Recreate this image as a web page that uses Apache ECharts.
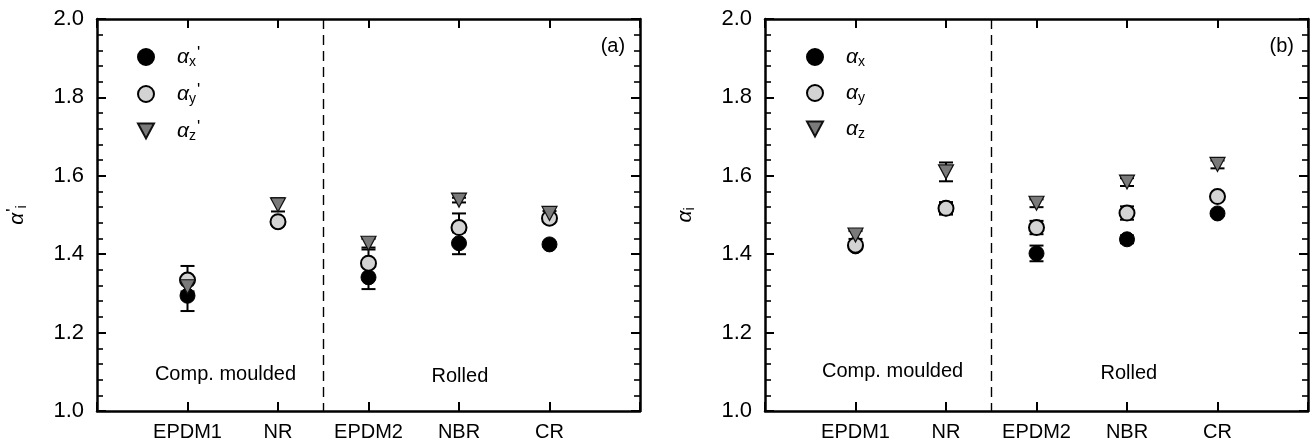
<!DOCTYPE html>
<html>
<head>
<meta charset="utf-8">
<script src="https://cdn.jsdelivr.net/npm/echarts@6/dist/echarts.min.js"></script>
<style>
html,body{margin:0;padding:0;background:#fff;}
#chart{width:1314px;height:444px;}
</style>
</head>
<body>
<div id="chart"></div>
<script>
// ---------- data ----------
const categories = ['EPDM1', 'NR', 'EPDM2', 'NBR', 'CR'];
const catPos = [1, 2, 3, 4, 5];
const yTickMin = 1.0, yTickMax = 2.0, yTickStep = 0.2;

// panel (a): alpha'_x, alpha'_y, alpha'_z
const aX = [1.294, 1.482, 1.341, 1.428, 1.425];
const aXErr = [0.039, 0.008, 0.030, 0.028, 0.006];
const aY = [1.334, 1.483, 1.377, 1.468, 1.492];
const aYErr = [0.036, 0.008, 0.035, 0.036, 0.006];
const aZ = [1.317, 1.526, 1.428, 1.538, 1.504];
const aZErr = [0.012, 0.017, 0.011, 0.006, 0.006];

// panel (b): alpha_x, alpha_y, alpha_z
const bX = [1.420, 1.517, 1.402, 1.438, 1.504];
const bXErr = [0.008, 0.012, 0.020, 0.010, 0.006];
const bY = [1.423, 1.517, 1.468, 1.505, 1.547];
const bYErr = [0.008, 0.016, 0.017, 0.017, 0.006];
const bZ = [1.449, 1.610, 1.530, 1.584, 1.629];
const bZErr = [0.010, 0.024, 0.010, 0.010, 0.010];

// ---------- helpers ----------
const FONT = 'Liberation Sans, Arial, sans-serif';
const TRI = 'path://M0,0 L10,0 L5,9.3 Z';

function pts(vals) { return vals.map((v, i) => [catPos[i], v]); }
function errs(vals, e) { return vals.map((v, i) => [catPos[i], v - e[i], v + e[i]]); }

function errRender(params, api) {
  const x = api.value(0), lo = api.value(1), hi = api.value(2);
  const a = api.coord([x, lo]), b = api.coord([x, hi]);
  const hw = 7;
  const st = { stroke: '#000', lineWidth: 2 };
  return {
    type: 'group',
    children: [
      { type: 'line', shape: { x1: a[0], y1: a[1], x2: b[0], y2: b[1] }, style: st },
      { type: 'line', shape: { x1: a[0] - hw, y1: a[1], x2: a[0] + hw, y2: a[1] }, style: st },
      { type: 'line', shape: { x1: b[0] - hw, y1: b[1], x2: b[0] + hw, y2: b[1] }, style: st }
    ]
  };
}

const styles = {
  x: { symbol: 'circle', symbolSize: 15, itemStyle: { color: '#000', borderColor: '#000', borderWidth: 1, opacity: 1 } },
  y: { symbol: 'circle', symbolSize: 15, itemStyle: { color: '#d3d3d3', borderColor: '#000', borderWidth: 2, opacity: 1 } },
  z: { symbol: TRI, symbolSize: [15, 14], itemStyle: { color: '#7a7a7a', borderColor: '#111', borderWidth: 1.2, opacity: 1 } }
};

function makeSeries(g, key, name, vals, e) {
  return [
    { type: 'custom', xAxisIndex: g * 2, yAxisIndex: g * 2, renderItem: errRender,
      data: errs(vals, e), encode: { x: 0, y: [1, 2] }, silent: true, z: 2 },
    Object.assign({ type: 'scatter', name: name, xAxisIndex: g * 2, yAxisIndex: g * 2,
      data: pts(vals), z: 3, emphasis: { disabled: true } }, JSON.parse(JSON.stringify(styles[key])))
  ];
}

const legendLabel = {
  ax: "{a|α}{s|x}{p|'}", ay: "{a|α}{s|y}{p|'}", az: "{a|α}{s|z}{p|'}",
  bx: '{a|α}{s|x}', by: '{a|α}{s|y}', bz: '{a|α}{s|z}'
};
const rich = {
  a: { fontStyle: 'italic', fontSize: 21, fontFamily: FONT, color: '#000', lineHeight: 24 },
  s: { fontSize: 14, fontFamily: FONT, color: '#000', verticalAlign: 'bottom', lineHeight: 14, padding: [14, 0, 0, 0] },
  p: { fontSize: 17, fontFamily: FONT, color: '#000', verticalAlign: 'top', lineHeight: 16, padding: [0, 0, 8, 1] }
};

function xAxis(g, pos) {
  return {
    type: 'value', gridIndex: g, min: 0, max: 6, interval: 1, position: pos,
    axisLine: { show: true, onZero: false, lineStyle: { color: '#000', width: 2.5 } },
    axisTick: { show: true, inside: true, length: 9, lineStyle: { color: '#000', width: 2 } },
    splitLine: { show: false },
    axisLabel: pos === 'bottom'
      ? { show: true, color: '#000', fontSize: 20, fontFamily: FONT, margin: 11,
          formatter: v => { const i = catPos.indexOf(v); return i >= 0 ? categories[i] : ''; } }
      : { show: false }
  };
}
function yAxis(g, pos, nameRich) {
  const ax = {
    type: 'value', gridIndex: g, min: yTickMin, max: yTickMax, interval: yTickStep, position: pos,
    axisLine: { show: true, onZero: false, lineStyle: { color: '#000', width: 2.5 } },
    axisTick: { show: true, inside: true, length: 9, lineStyle: { color: '#000', width: 2 } },
    minorTick: { show: true, splitNumber: 5, length: 6, lineStyle: { color: '#000', width: 1.6 } },
    splitLine: { show: false },
    axisLabel: { show: false }
  };
  if (pos === 'left') {
    ax.name = nameRich; ax.nameLocation = 'middle'; ax.nameRotate = 90; ax.nameGap = 68;
    ax.nameTextStyle = { rich: rich };
    ax.axisLabel = { show: true, color: '#000', fontSize: 22, fontFamily: FONT, margin: 13,
      formatter: v => v.toFixed(1) };
  }
  return ax;
}

const dashLine = {
  silent: true, symbol: ['none', 'none'], label: { show: false },
  lineStyle: { color: '#000', type: [10, 6], width: 1.4, opacity: 1 },
  emphasis: { disabled: true },
  data: [[{ coord: [2.5, yTickMax] }, { coord: [2.5, yTickMin] }]]
};

let series = [];
series = series.concat(makeSeries(0, 'x', 'ax', aX, aXErr));
series = series.concat(makeSeries(0, 'y', 'ay', aY, aYErr));
series = series.concat(makeSeries(0, 'z', 'az', aZ, aZErr));
series = series.concat(makeSeries(1, 'x', 'bx', bX, bXErr));
series = series.concat(makeSeries(1, 'y', 'by', bY, bYErr));
series = series.concat(makeSeries(1, 'z', 'bz', bZ, bZErr));
series[1].markLine = JSON.parse(JSON.stringify(dashLine));
series[7].markLine = JSON.parse(JSON.stringify(dashLine));

function legend(names, left) {
  return {
    data: names, orient: 'vertical', left: left, top: 36, itemGap: 8,
    itemWidth: 16, itemHeight: 16, selectedMode: false,
    formatter: n => legendLabel[n],
    textStyle: { rich: rich, padding: [0, 0, 0, 18] }
  };
}

const chart = echarts.init(document.getElementById('chart'), null, { renderer: 'canvas' });
chart.setOption({
  animation: false,
  backgroundColor: '#fff',
  grid: [
    { left: 96, top: 19, width: 544, height: 392 },
    { left: 765, top: 19, width: 543, height: 392 }
  ],
  xAxis: [xAxis(0, 'bottom'), xAxis(0, 'top'), xAxis(1, 'bottom'), xAxis(1, 'top')],
  yAxis: [yAxis(0, 'left', "{a|α}{p|'}{s|i}"), yAxis(0, 'right'), yAxis(1, 'left', '{a|α}{s|i}'), yAxis(1, 'right')],
  legend: [legend(['ax', 'ay', 'az'], 132), legend(['bx', 'by', 'bz'], 801)],
  series: series
});

// annotations placed in data coordinates
const notes = [
  { g: 0, x: 1.42, y: 1.092, text: 'Comp. moulded' },
  { g: 0, x: 4.01, y: 1.087, text: 'Rolled' },
  { g: 0, x: 5.70, y: 1.929, text: '(a)' },
  { g: 1, x: 1.41, y: 1.100, text: 'Comp. moulded' },
  { g: 1, x: 4.02, y: 1.096, text: 'Rolled' },
  { g: 1, x: 5.71, y: 1.929, text: '(b)' }
];
chart.setOption({
  graphic: notes.map(n => {
    const p = chart.convertToPixel({ gridIndex: n.g }, [n.x, n.y]);
    return { type: 'text', x: p[0], y: p[1], silent: true,
      style: { text: n.text, fill: '#000', fontSize: 20, fontFamily: FONT, align: 'center', verticalAlign: 'middle' } };
  })
});
</script>
</body>
</html>
